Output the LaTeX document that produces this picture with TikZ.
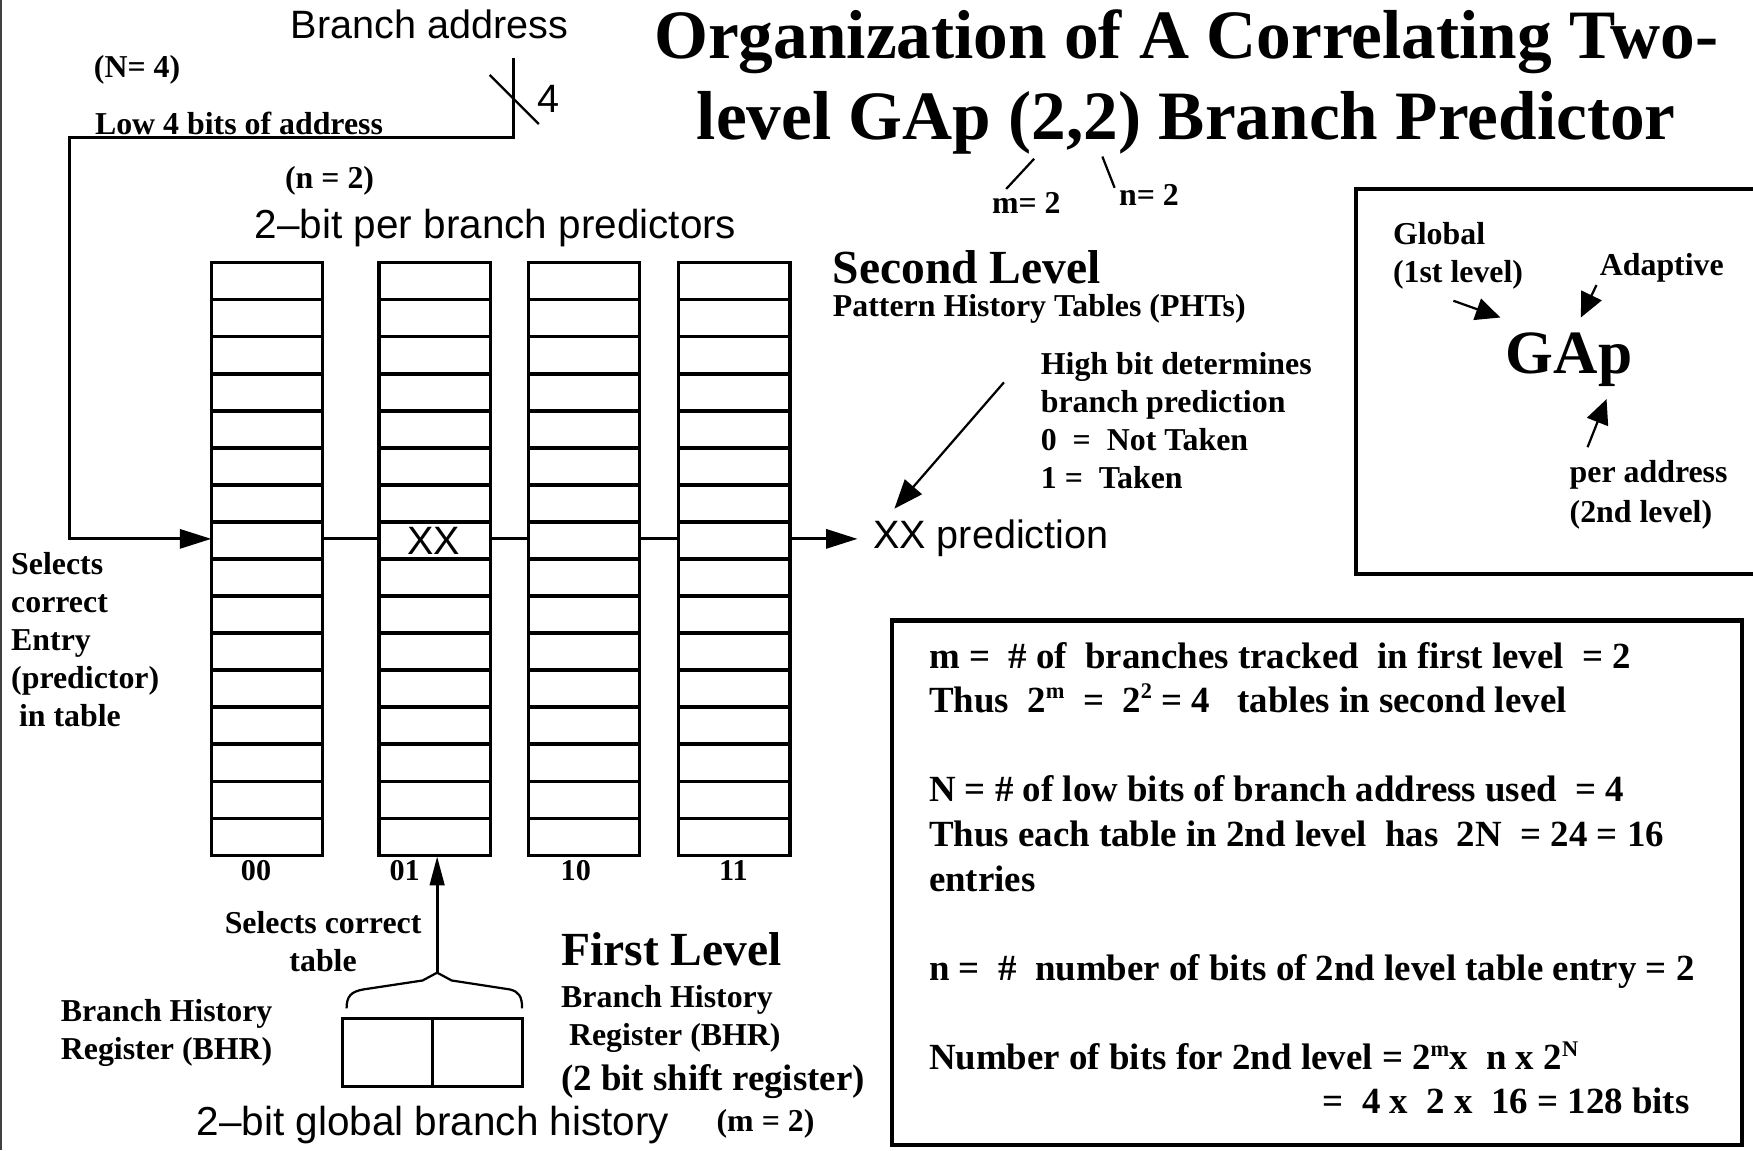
\documentclass[tikz,border=0pt]{standalone}
\usepackage{fontspec}
\setmainfont{Liberation Serif}
\newfontfamily\arialf{Liberation Sans}
\usetikzlibrary{arrows.meta,calc}
\newcommand{\mysup}[1]{\raisebox{6pt}{\fontsize{10}{10}\selectfont #1}}
\begin{document}
\begin{tikzpicture}[x=0.5pt,y=-0.5pt,
  every node/.style={inner sep=0pt,outer sep=0pt},
  lb/.style={font=\bfseries\fontsize{14.25}{17}\selectfont,anchor=base west},
  lbc/.style={font=\bfseries\fontsize{14.25}{17}\selectfont,anchor=base},
  sm/.style={font=\bfseries\fontsize{13.5}{16}\selectfont,anchor=base},
  bx/.style={font=\bfseries\fontsize{16.5}{20}\selectfont,anchor=base west},
  hd/.style={font=\bfseries\fontsize{21.25}{25}\selectfont,anchor=base west},
  sf/.style={font=\arialf\fontsize{17.7}{21}\selectfont,anchor=base west},
  sfb/.style={font=\arialf\fontsize{18.1}{21}\selectfont,anchor=base west},
  ttl/.style={font=\bfseries\fontsize{31}{36.5}\selectfont,anchor=base},
  tbl/.style={draw,line width=1.5pt,minimum width=49.75pt,minimum height=265pt,anchor=north west},
  tline/.style={line width=1.5pt},
  conn/.style={line width=1.3pt},
  thin/.style={line width=1pt},
  frame/.style={line width=1.8pt},
  bigtip/.style={-{Triangle[length=14pt,width=8.5pt]}},
  tri/.style={-{Triangle[length=11pt,width=10pt]}},
]
\useasboundingbox (0,0) rectangle (1568,1029);
\draw[line width=1pt,black!75] (1,0) -- (1,1029);

% ---------- title ----------
\node[ttl] (title1) at (1061,52) {Organization of A Correlating Two-};
\node[ttl] (title2) at (1061,125) {level GAp (2,2) Branch Predictor};
\node[lbc] (mtwo) at (918,191) {m= 2};
\node[lb] (ntwo) at (1001,184) {n= 2};
\coordinate (mt) at (925,142); \coordinate (mb) at (900,169);
\coordinate (nt) at (986,140); \coordinate (nb) at (997,168);
\draw[thin] (mt) -- (mb);
\draw[thin] (nt) -- (nb);

% ---------- branch address ----------
\node[font=\arialf\fontsize{17.7}{21}\selectfont,anchor=base] (baddr) at (384,34) {Branch address};
\node[lb] (Nfour) at (84,69) {(N= 4)};
\node[lb] (low4) at (85,120) {Low 4 bits of address};
\node[font=\arialf\fontsize{17.7}{21}\selectfont,anchor=base] (four) at (491,101) {4};
\coordinate (slashA) at (438,67); \coordinate (slashB) at (482,111);
\draw[thin] (slashA) -- (slashB);

\node[lb] (ntwoL) at (255,169) {(n = 2)};
\node[sfb] (perbr) at (228,213) {2\textendash bit per branch predictors};

% ---------- tables ----------
\node[tbl] (t00) at (189,235) {};
\node[tbl] (t01) at (339,235) {};
\node[tbl] (t10) at (472.5,235) {};
\node[tbl] (t11) at (607,235) {};
\foreach \t in {t00,t01,t10,t11}
  \foreach \k in {1,...,15}
    \draw[tline] ($(\t.north west)!{\k/16}!(\t.south west)$) -- ($(\t.north east)!{\k/16}!(\t.south east)$);

\node[font=\arialf\fontsize{17.7}{21}\selectfont,anchor=base] (xx) at (388,496) {XX};

\node[sm] (l00) at (229,788) {00};
\node[sm] (l01) at (362,788) {01};
\node[sm] (l10) at (515,788) {10};
\node[sm] (l11) at (656,788) {11};

% ---------- connectors ----------
\coordinate (rowy) at (0,482);
\coordinate (baend) at (459,52);
\coordinate (c1) at (459,123);
\coordinate (c2) at (62,123);
\coordinate (c3) at (62,482);
\draw[conn,bigtip] (baend) -- (c1) -- (c2) -- (c3) -- (t00.west |- rowy);
\draw[conn] (t00.east |- rowy) -- (t01.west |- rowy);
\draw[conn] (t01.east |- rowy) -- (t10.west |- rowy);
\draw[conn] (t10.east |- rowy) -- (t11.west |- rowy);
\coordinate (predin) at (767,482);
\draw[conn,bigtip] (t11.east |- rowy) -- (predin);
\node[sf] (pred) at (781,491) {XX prediction};

% ---------- second level text ----------
\node[hd] (second) at (745,254) {Second Level};
\node[lb] (pht) at (745,283) {Pattern History Tables (PHTs)};
\node[lb] (hb1) at (931,335) {High bit determines};
\node[lb] (hb2) at (931,369) {branch prediction};
\node[lb] (hb3) at (931,403) {0~ =~ Not Taken};
\node[lb] (hb4) at (931,437) {1 =~ Taken};
\coordinate (hbs) at (898,342); \coordinate (hbe) at (800,455);
\draw[thin,-{Triangle[length=13pt,width=10pt]}] (hbs) -- (hbe);

% ---------- left labels ----------
\node[lb] (sel1) at (10,514) {Selects};
\node[lb] (sel2) at (10,548) {correct};
\node[lb] (sel3) at (10,582) {Entry};
\node[lb] (sel4) at (10,616) {(predictor)};
\node[lb] (sel5) at (17,650) {in table};

% ---------- first level ----------
\node[lbc] (selt1) at (289,835) {Selects correct};
\node[lbc] (selt2) at (289,869) {table};
\node[draw,line width=1.5pt,minimum width=80.5pt,minimum height=30.5pt,anchor=north west] (bhr) at (306.5,911) {};
\draw[tline] (bhr.north) -- (bhr.south);
\coordinate (brL) at (310,902);
\coordinate (brTip) at (391,870);
\coordinate (brR) at (467,902);
\draw[thin] (brL) .. controls (310,891) and (314,887) .. (325,885) -- (378,877) -- (brTip) -- (404,877) -- (456,885) .. controls (464,887) and (467,891) .. (brR);
\coordinate (upend) at (391,766);
\draw[conn,-{Triangle[length=13pt,width=6.5pt]}] (brTip) -- (upend);

\node[lbc] (bhL1) at (149,914) {Branch History};
\node[lbc] (bhL2) at (149,948) {Register (BHR)};
\node[hd] (first) at (502,864) {First Level};
\node[lb] (bhR1) at (502,901) {Branch History};
\node[lb] (bhR2) at (509,935) {Register (BHR)};
\node[bx] (shift) at (502,975) {(2 bit shift register)};
\node[sfb] (glob) at (176,1016) {2\textendash bit global branch history};
\node[lb] (mtwoB) at (641,1012) {(m = 2)};

% ---------- GAp box ----------
\draw[frame] (1575,169) -- (1213,169) -- (1213,513) -- (1575,513);
\node[lb] (global) at (1246,219) {Global};
\node[lb] (first1) at (1246,253) {(1st level)};
\node[lb] (adapt) at (1431,246) {Adaptive};
\node[font=\bfseries\fontsize{27.5}{33}\selectfont,anchor=base west] (gap) at (1347,334) {GAp};
\node[lb] (peraddr) at (1404,432) {per address};
\node[lb] (second2) at (1404,467) {(2nd level)};
\coordinate (ga1) at (1300,269); \coordinate (ga2) at (1342,284);
\coordinate (ad1) at (1428,255); \coordinate (ad2) at (1414,284);
\coordinate (pa1) at (1420,400); \coordinate (pa2) at (1437,357);
\draw[thin,tri] (ga1) -- (ga2);
\draw[thin,tri] (ad1) -- (ad2);
\draw[thin,tri] (pa1) -- (pa2);

% ---------- formula box ----------
\node[draw,frame,minimum width=380pt,minimum height=234.5pt,anchor=north west] (fbox) at (798,555) {};
\node[bx] (f1) at (831,598) {m =~ \# of~ branches tracked~ in first level~ = 2};
\node[bx] (f2) at (831,637) {Thus~ 2\mysup{m}~ =~ 2\mysup{2} = 4~~ tables in second level};
\node[bx] (f3) at (831,717) {N = \# of low bits of branch address used~ = 4};
\node[bx] (f4) at (831,757) {Thus each table in 2nd level~ has~ 2N~ = 24 = 16};
\node[bx] (f5) at (831,797) {entries};
\node[bx] (f6) at (831,877) {n =~ \#~ number of bits of 2nd level table entry = 2};
\node[bx] (f7) at (831,957) {Number of bits for 2nd level = 2\mysup{m}x~ n x 2\mysup{N}};
\node[bx] (f8) at (1183,996) {=~ 4 x~ 2 x~ 16 = 128 bits};
\end{tikzpicture}
\end{document}
